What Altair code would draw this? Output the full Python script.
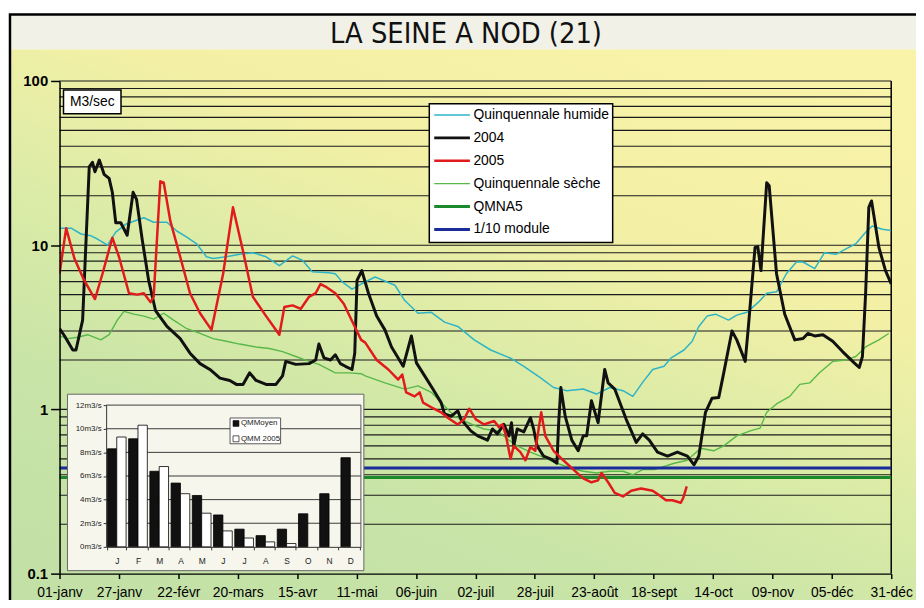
import altair as alt
import pandas as pd

# ---------------- data ----------------
TITLE = "LA SEINE A NOD (21)"
UNIT_LABEL = "M3/sec"

X_TICK_DAYS = [0, 26, 52, 78, 104, 130, 156, 182, 208, 234, 260, 286, 312, 338, 364]
X_TICK_LABELS = ["01-janv", "27-janv", "22-févr", "20-mars", "15-avr", "11-mai", "06-juin",
                 "02-juil", "28-juil", "23-août", "18-sept", "14-oct", "09-nov", "05-déc", "31-déc"]
Y_TICKS = [0.1, 1, 10, 100]
GRID_LEVELS = [0.2, 0.3, 0.4, 0.5, 0.6, 0.7, 0.8, 0.9, 1,
               2, 3, 4, 5, 6, 7, 8, 9, 10,
               20, 30, 40, 50, 60, 70, 80, 90, 100]

SERIES_NAMES = ["Quinquennale humide", "2004", "2005", "Quinquennale sèche", "QMNA5", "1/10 module"]

# (day of year, m3/s)
HUMIDE = [(0, 12.7), (5.1, 12.7), (9.4, 11.7), (13.8, 11.4), (16.6, 10.9), (21, 10), (24.6, 12),
          (28.9, 13.4), (32.5, 14), (36.9, 14.7), (41.2, 13.8), (47, 13.8), (51.3, 12.2), (55.7, 11.2),
          (60, 10.2), (64.3, 8.5), (67.2, 8.3), (73, 8.5), (78.8, 8.8), (84.6, 9.0), (90.4, 8.5),
          (96.2, 7.5), (102, 8.6), (106.3, 8.1), (110.6, 6.9), (117.9, 6.8), (120.7, 6.7), (123.6, 6.0),
          (128, 5.4), (132, 5.8), (138.1, 6.4), (146.8, 5.7), (151.1, 4.6), (156.9, 3.85), (162.7, 3.9),
          (168.5, 3.4), (174.3, 3.2), (181.5, 2.65), (188.7, 2.3), (197.4, 2.05), (203.2, 1.83),
          (210.4, 1.56), (216.2, 1.36), (222, 1.3), (229.2, 1.33), (235, 1.24), (240.8, 1.36),
          (246.6, 1.3), (250.9, 1.2), (255.2, 1.46), (259.6, 1.75), (264.6, 1.83), (267.5, 2.05),
          (273.3, 2.3), (276.9, 2.6), (279.8, 3.2), (283.4, 3.7), (287.1, 3.8), (292.8, 3.5),
          (296.4, 3.75), (300.8, 3.9), (305.9, 4.5), (309.5, 5.1), (313.8, 5.2), (318.1, 6.7),
          (322.5, 7.9), (325.4, 7.9), (330.5, 7.2), (334.8, 9.0), (339.8, 8.8), (344.2, 9.5),
          (348.5, 10.2), (352.8, 12), (355.7, 13.1), (360.1, 12.5), (364, 12.3)]

Y2004 = [(0, 3.1), (2.2, 2.8), (5.8, 2.3), (7.2, 2.3), (10.1, 3.5), (11.6, 10.7), (13, 30), (14.4, 32),
         (15.5, 28), (17.4, 33), (19.5, 27), (21.7, 25.5), (23.1, 21), (24.6, 13.7), (26.8, 13.7),
         (29.6, 11.5), (32.2, 21), (33.7, 19), (36.1, 11), (39, 6.1), (42, 4), (47, 3.2), (52.8, 2.7),
         (57.1, 2.2), (61.5, 1.9), (65.8, 1.75), (70.2, 1.55), (74.5, 1.5), (77.4, 1.42), (80.3, 1.42),
         (83.2, 1.67), (86, 1.5), (90.4, 1.42), (94.7, 1.42), (97.6, 1.6), (99, 1.96), (103.4, 1.88),
         (109.2, 1.9), (112.1, 2.0), (113.5, 2.5), (115.7, 2.06), (118.6, 2.0), (120.7, 2.15),
         (122.9, 1.9), (125.1, 1.83), (128, 1.75), (129.2, 2.2), (130.2, 6.1), (132.3, 7.0),
         (135.2, 5.1), (138.8, 3.7), (142.4, 3.05), (145.3, 2.4), (150.4, 1.83), (154, 2.8),
         (156.2, 1.92), (159.8, 1.6), (163.4, 1.33), (167, 1.1), (168.5, 0.94), (171.4, 0.91),
         (174.3, 0.98), (175.7, 0.87), (180, 0.74), (183, 0.69), (187.3, 0.65), (189.5, 0.76),
         (191.6, 0.71), (194.5, 0.81), (196.7, 0.69), (197.8, 0.83), (198.8, 0.6), (200.3, 0.76),
         (203.2, 0.73), (206.1, 0.89), (207.5, 0.76), (209, 0.6), (211.8, 0.52), (214.8, 0.5),
         (217.7, 0.47), (218.4, 0.8), (219.4, 1.36), (221.3, 0.91), (224.2, 0.65), (227, 0.56),
         (229.2, 0.69), (230.7, 0.69), (232.8, 1.13), (235.7, 0.83), (238.6, 1.75), (240.1, 1.45),
         (243, 1.33), (248, 0.87), (252.4, 0.63), (255.2, 0.71), (258.1, 0.65), (261.7, 0.55),
         (266.1, 0.52), (270.4, 0.55), (274.8, 0.52), (277.7, 0.46), (279.8, 0.52), (282.7, 0.96),
         (285.6, 1.17), (288.5, 1.18), (290.7, 1.67), (294.3, 3.0), (296.4, 2.65), (300.1, 1.96),
         (301.5, 3.2), (304.4, 9.7), (305.6, 9.8), (307, 7.0), (309.5, 24), (310.6, 23), (313.8, 6.7),
         (317.4, 3.8), (321.8, 2.65), (325.4, 2.7), (327.5, 2.9), (330.5, 2.8), (334.1, 2.85),
         (338.4, 2.6), (342.7, 2.25), (347.8, 1.92), (350, 1.8), (351.4, 2.1), (352.8, 5.1),
         (354.2, 17), (355.4, 18.6), (358.6, 9.7), (361.5, 7.0), (364, 5.8)]

Y2005 = [(0, 6.7), (2.9, 12.7), (6.5, 8.3), (10.8, 6.1), (15.5, 4.7), (18.8, 6.7), (23.1, 11.1),
         (26, 8.5), (30.4, 5.1), (34, 5.0), (36.9, 5.1), (39.8, 4.5), (41.2, 4.85), (44.1, 24.5),
         (45.6, 24), (48.5, 14), (52.8, 8.5), (57.1, 5.1), (61.5, 3.85), (66.5, 3.05), (71.6, 6.7),
         (75.9, 17), (80.3, 9.2), (84.6, 4.85), (90.4, 3.7), (96.2, 2.85), (98.4, 4.2), (102, 4.3),
         (105.6, 4.1), (109.2, 4.85), (112.1, 5.1), (114.2, 5.8), (116.4, 5.6), (120.7, 5.1),
         (124.4, 4.4), (128, 3.45), (132, 2.65), (133.8, 2.55), (138.8, 2.0), (143.9, 1.75),
         (148.2, 1.52), (150, 1.63), (151.7, 1.27), (155.4, 1.2), (157.6, 1.27), (159.1, 1.1),
         (162.7, 1.03), (167, 0.96), (169.9, 0.89), (174.3, 0.81), (177.1, 0.87), (179.3, 1.01),
         (182.2, 0.87), (185.8, 0.81), (190.2, 0.85), (192.3, 0.78), (193.8, 0.81), (195.2, 0.71),
         (197.4, 0.5), (198.8, 0.6), (201.7, 0.55), (203.9, 0.49), (206.1, 0.59), (208.2, 0.56),
         (210.8, 0.96), (212.6, 0.69), (216.2, 0.56), (220.5, 0.49), (224.9, 0.43), (229.2, 0.38),
         (232.8, 0.36), (235.7, 0.37), (237.2, 0.41), (240.1, 0.36), (243, 0.31), (246.6, 0.295),
         (250.2, 0.32), (254.5, 0.33), (259.6, 0.32), (262.5, 0.30), (265.4, 0.28), (268.2, 0.28),
         (271.9, 0.27), (273, 0.29), (274.5, 0.34)]

SECHE = [(0, 2.8), (3.6, 2.7), (7.9, 2.75), (12.3, 2.85), (18.1, 2.65), (21.7, 2.85), (25.3, 3.5),
         (28.2, 3.95), (32.5, 3.8), (36.9, 3.7), (41.2, 3.55), (45.6, 3.85), (49.9, 3.5), (55.7, 3.1),
         (61.5, 2.9), (67.2, 2.7), (73, 2.6), (78.8, 2.5), (86, 2.4), (91.8, 2.35), (97.6, 2.25),
         (103.4, 2.1), (109.2, 1.96), (113.5, 1.88), (120.7, 1.67), (126.6, 1.67), (132, 1.65),
         (133.8, 1.6), (142.4, 1.45), (151.1, 1.33), (156.9, 1.39), (162.7, 1.27), (168.5, 1.05),
         (172.8, 0.91), (177.1, 0.85), (181.5, 0.8), (185.8, 0.76), (191.6, 0.74), (196, 0.66),
         (200.3, 0.6), (206.1, 0.55), (211.8, 0.51), (217.7, 0.47), (223.4, 0.44), (229.2, 0.42),
         (235, 0.41), (240.8, 0.42), (246.6, 0.42), (250.9, 0.40), (255.2, 0.43), (260.3, 0.43),
         (269, 0.47), (274.7, 0.49), (280.6, 0.58), (286.3, 0.56), (290.7, 0.6), (296.4, 0.69),
         (302.3, 0.74), (306.6, 0.77), (309.5, 0.96), (313.8, 1.08), (319.6, 1.2), (324, 1.42),
         (328.3, 1.45), (332.6, 1.67), (338.4, 1.96), (344.2, 2.0), (348.5, 2.1), (352.8, 2.4),
         (358.6, 2.65), (362.9, 2.9)]

QMNA5 = 0.385
MODULE_10 = 0.44

# inset bar chart (m3/s)
MONTH_LETTERS = ["J", "F", "M", "A", "M", "J", "J", "A", "S", "O", "N", "D"]
QM_MOYEN = [8.3, 9.15, 6.4, 5.4, 4.35, 2.7, 1.5, 0.95, 1.5, 2.8, 4.5, 7.55]
QMM_2005 = [9.3, 10.3, 6.8, 4.5, 2.85, 1.35, 0.75, 0.42, 0.28, None, None, None]
INSET_SERIES = ["QMMoyen", "QMM 2005"]
INSET_TICKS = [0, 2, 4, 6, 8, 10, 12]

# ---------------- styles ----------------
COLORS = {"Quinquennale humide": "#2fb4c6", "2004": "#111111", "2005": "#e11b1b",
          "Quinquennale sèche": "#58b848", "QMNA5": "#1a8a2c", "1/10 module": "#1a2b9a"}
WIDTHS = {"Quinquennale humide": 1.5, "2004": 3, "2005": 2.5,
          "Quinquennale sèche": 1.4, "QMNA5": 3, "1/10 module": 3}
FONT = "Liberation Sans"
W, H = 839, 497

one = pd.DataFrame({"k": [0]})

x_scale = alt.Scale(domain=[0, 364], nice=False, zero=False)
y_scale = alt.Scale(type="log", domain=[0.1, 100], nice=False)

label_js = "[" + ",".join("'" + s + "'" for s in X_TICK_LABELS) + "]"
x_axis = alt.Axis(values=X_TICK_DAYS, labelExpr=label_js + "[round(datum.value/26)]",
                  labelFontSize=14, labelColor="black", labelFont=FONT, tickSize=5, tickWidth=1.5,
                  tickColor="black", domainColor="black", domainWidth=1.5, labelPadding=7,
                  labelFlush=False, labelOverlap=False, title=None, grid=False, zindex=1)
y_axis = alt.Axis(values=Y_TICKS, format="~g", labelFontSize=15, labelFontWeight="bold",
                  labelColor="black", labelFont=FONT, tickSize=9, tickWidth=1.5, tickColor="black",
                  domainColor="black", domainWidth=1.5, labelPadding=3, title=None, grid=False,
                  zindex=1)

# every layer sharing a scale carries the same axis definition (an axis=None would disable it)
XM = alt.X("day:Q", scale=x_scale, axis=x_axis)
YM = alt.Y("v:Q", scale=y_scale, axis=y_axis)


def vrect(x, x2, y, y2, **kw):
    return alt.Chart(one).mark_rect(**kw).encode(
        x=alt.value(x), x2=alt.value(x2), y=alt.value(y), y2=alt.value(y2))


def vtext(x, y, txt, **kw):
    return alt.Chart(one).mark_text(text=txt, **kw).encode(x=alt.value(x), y=alt.value(y))


# background
bg = vrect(-50, 900, -32, 540, fill=alt.Gradient(
    gradient="linear", x1=0.8, y1=0, x2=0.2, y2=1,
    stops=[alt.GradientStop(color="#f8f3a8", offset=0),
           alt.GradientStop(color="#f3f0a6", offset=0.3),
           alt.GradientStop(color="#d9eba7", offset=0.55),
           alt.GradientStop(color="#c9e4a7", offset=0.75),
           alt.GradientStop(color="#c3e1a6", offset=1)]))
title_band = vrect(-50, 900, -67, -32, fill="#f1f1e8")
frame = vrect(-50, 900, -67, 540, fill=None, filled=False, stroke="black", strokeWidth=2.5)

grid = alt.Chart(pd.DataFrame({"v": GRID_LEVELS})).mark_rule(color="#1b1b1b", strokeWidth=1.1).encode(y=YM)
right_border = alt.Chart(pd.DataFrame({"day": [364]})).mark_rule(color="black", strokeWidth=1.5).encode(x=XM)


def series_layer(name, pts):
    df = pd.DataFrame(pts, columns=["day", "v"])
    return alt.Chart(df).mark_line(color=COLORS[name], strokeWidth=WIDTHS[name],
                                   strokeJoin="round", clip=True).encode(x=XM, y=YM)


lines = [series_layer("Quinquennale humide", HUMIDE),
         series_layer("Quinquennale sèche", SECHE)]
refs = [alt.Chart(pd.DataFrame({"v": [QMNA5]})).mark_rule(color=COLORS["QMNA5"], strokeWidth=3).encode(y=YM),
        alt.Chart(pd.DataFrame({"v": [MODULE_10]})).mark_rule(color=COLORS["1/10 module"], strokeWidth=3).encode(y=YM)]
lines2 = [series_layer("2004", Y2004), series_layer("2005", Y2005)]

unit_box = [vrect(4, 62, 9, 33, fill="white", stroke="black", strokeWidth=1.5),
            vtext(33, 21, UNIT_LABEL, fontSize=14, color="black", font=FONT)]

legend = [vrect(373, 558, 23, 163, fill="white", stroke="black", strokeWidth=1.5)]
for i, name in enumerate(SERIES_NAMES):
    yy = 34.3 + 23.1 * i
    legend.append(alt.Chart(one).mark_rule(color=COLORS[name], strokeWidth=WIDTHS[name]).encode(
        x=alt.value(378), x2=alt.value(414), y=alt.value(yy)))
    legend.append(vtext(417.5, yy, name, fontSize=14, color="black", align="left", font=FONT))

title = vtext(410, -47, TITLE, fontSize=29, color="#111",
              font="Liberation Sans Narrow, Arial Narrow, DejaVu Sans Condensed, sans-serif")

main = alt.layer(bg, title_band, grid, right_border, *lines, *refs, *lines2,
                 *unit_box, *legend, title, frame)

# ---------------- inset ----------------
rows = []
for m, (a, b) in enumerate(zip(QM_MOYEN, QMM_2005), start=1):
    rows.append({"mois": m, "serie": INSET_SERIES[0], "q": a})
    if b is not None:
        rows.append({"mois": m, "serie": INSET_SERIES[1], "q": b})
bars_df = pd.DataFrame(rows)

ix_scale = alt.Scale(domain=list(range(1, 13)), range=[47, 304], paddingInner=0.12, paddingOuter=0.06)
iy_scale = alt.Scale(domain=[0, 12], range=[470, 327], nice=False, zero=True)
month_js = "[" + ",".join("'" + s + "'" for s in MONTH_LETTERS) + "]"
ix_axis = alt.Axis(orient="bottom", offset=-27, labelExpr=month_js + "[datum.value-1]", labelAngle=0,
                   tickBand="extent", tickSize=3, tickColor="#333", domainColor="#333",
                   labelFontSize=8.5, labelColor="#222", labelPadding=7, title=None, grid=False, zindex=1)
iy_axis = alt.Axis(orient="left", offset=-47, values=INSET_TICKS, labelExpr="datum.value + 'm3/s'",
                   tickSize=3, tickColor="#333", domainColor="#333", labelFontSize=8,
                   labelColor="#222", labelPadding=2, title=None, grid=False, zindex=1)
IY = alt.Y("q:Q", scale=iy_scale, axis=iy_axis)

inset_box = vrect(8, 307, 316, 494, fill="#f7f6ec", stroke="#666", strokeWidth=1)
inset_grid = alt.Chart(pd.DataFrame({"q": INSET_TICKS[1:]})).mark_rule(color="#3a3a3a", strokeWidth=1).encode(
    y=IY, x=alt.value(47), x2=alt.value(304))
inset_right = alt.Chart(one).mark_rule(color="#555", strokeWidth=1).encode(
    x=alt.value(304), y=alt.value(327), y2=alt.value(470))
bars = alt.Chart(bars_df).mark_bar(stroke="black", strokeWidth=0.8).encode(
    x=alt.X("mois:O", scale=ix_scale, axis=ix_axis),
    xOffset=alt.XOffset("serie:N", scale=alt.Scale(domain=INSET_SERIES, paddingInner=0, paddingOuter=0)),
    y=IY,
    fill=alt.Fill("serie:N", scale=alt.Scale(domain=INSET_SERIES, range=["#111111", "#ffffff"]), legend=None))

inset_leg = [vrect(172, 223, 340, 366, fill="white", stroke="#333", strokeWidth=0.8),
             vrect(175, 181, 342.5, 348.5, fill="#111", stroke="#111", strokeWidth=0.6),
             vtext(183, 345.5, INSET_SERIES[0], fontSize=8, color="#222", align="left", font=FONT),
             vrect(175, 181, 358, 364, fill="white", stroke="#111", strokeWidth=0.7),
             vtext(183, 361, INSET_SERIES[1], fontSize=8, color="#222", align="left", font=FONT)]

inset = alt.layer(inset_box, inset_grid, inset_right, bars, *inset_leg)

chart = alt.layer(main, inset).resolve_scale(x="independent", y="independent").properties(
    width=W, height=H,
    autosize=alt.AutoSizeParams(type="none"),
    padding={"left": 52, "top": 71, "right": 25, "bottom": 24},
).configure_view(stroke=None).configure(font=FONT)

chart.save("out.html", embed_options={"renderer": "svg", "actions": False})
